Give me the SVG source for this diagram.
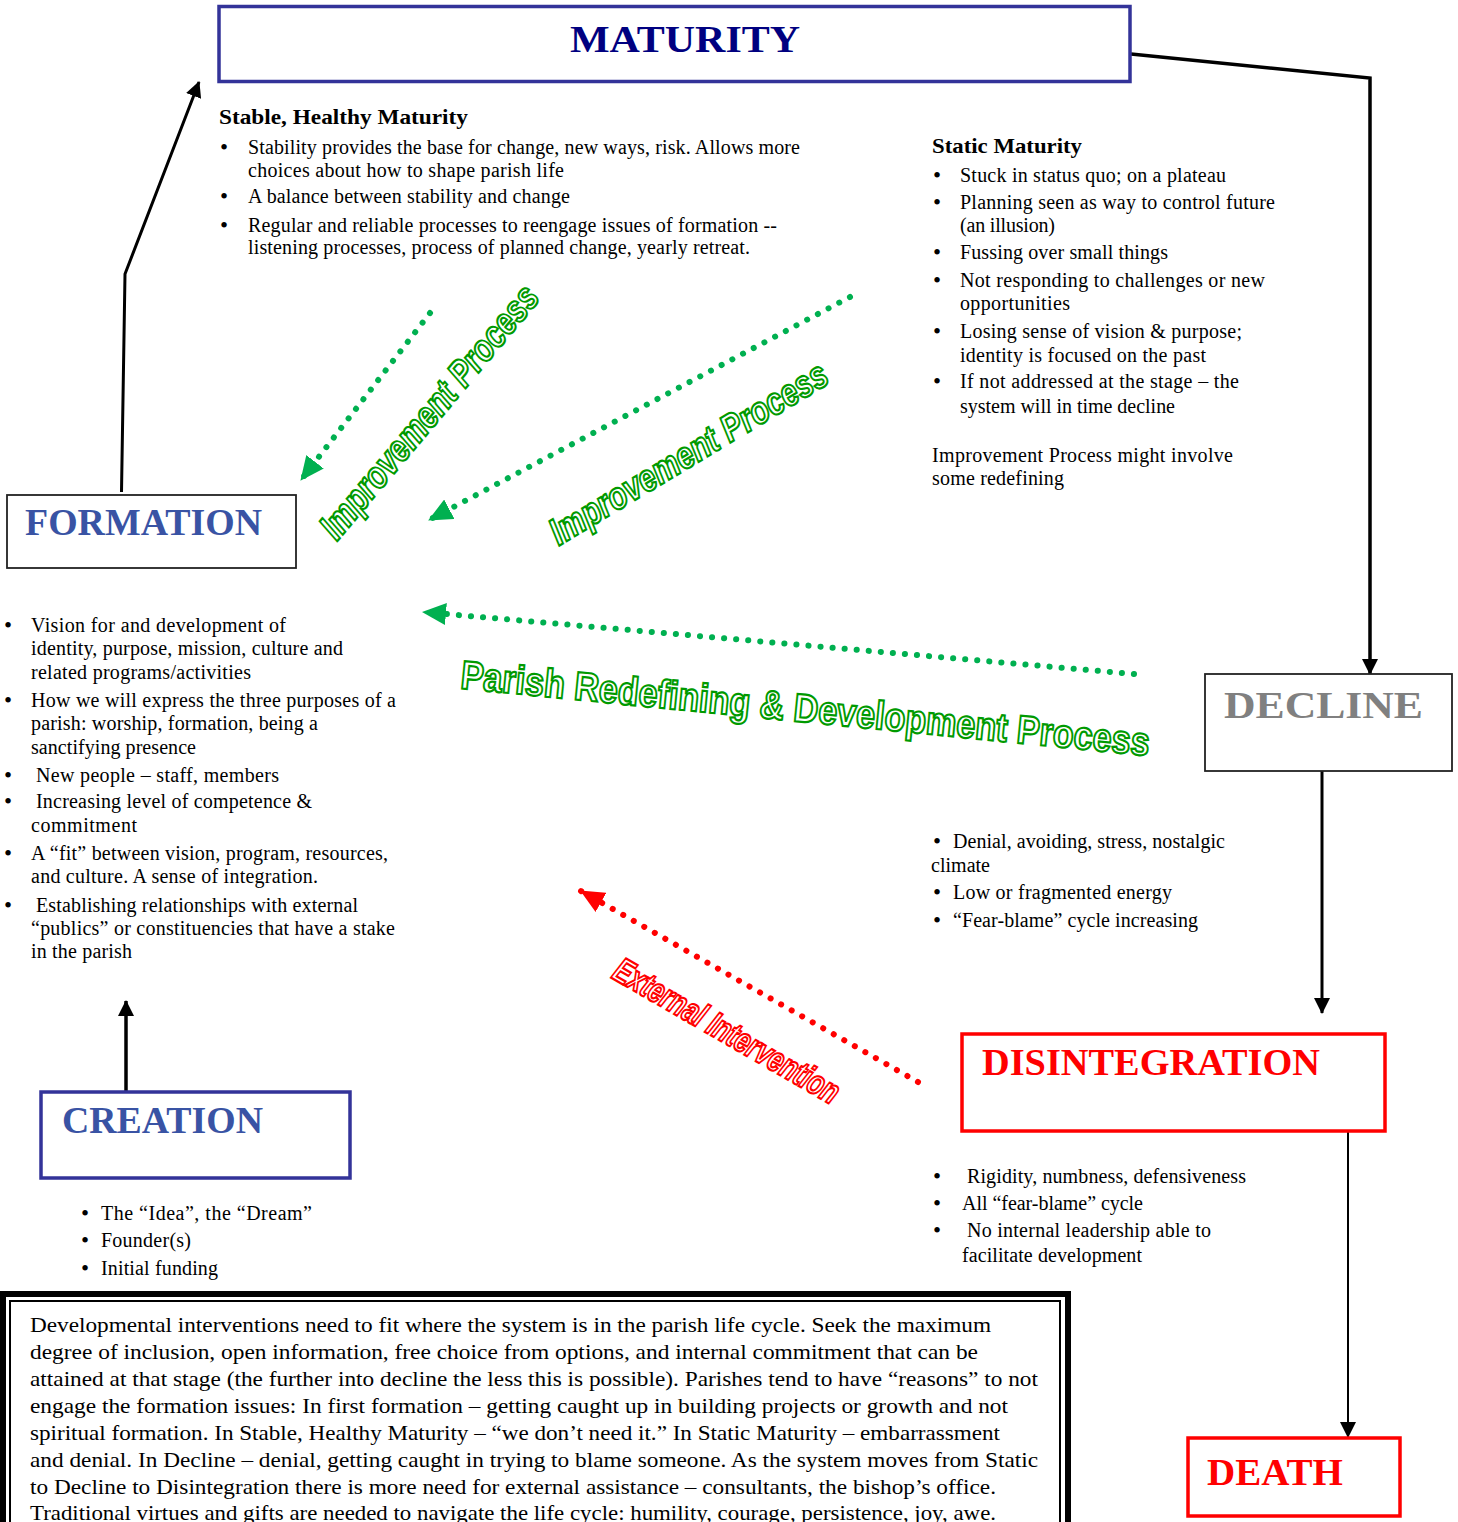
<svg xmlns="http://www.w3.org/2000/svg" width="1458" height="1522" viewBox="0 0 1458 1522">
<style>
.body{font-family:"Liberation Serif","Times New Roman",serif;font-size:20px;fill:#000}
.note{font-family:"Liberation Serif","Times New Roman",serif;font-size:22px;fill:#000}
.head{font-family:"Liberation Serif","Times New Roman",serif;font-size:22px;font-weight:bold;fill:#000}
.bul{font-family:"Liberation Serif","Times New Roman",serif;font-size:23px;fill:#000;text-anchor:middle}
.title{font-family:"Liberation Serif","Times New Roman",serif;font-weight:bold;font-size:38px}
.blue-box{fill:#fff;stroke:#333399;stroke-width:3.5}
.grey-box{fill:#fff;stroke:#222;stroke-width:1.8}
.red-box{fill:#fff;stroke:#ff0000;stroke-width:3.5}
.conn{fill:none;stroke:#000;stroke-width:3;marker-end:url(#blk)}
.dot-g{fill:none;stroke:#00b050;stroke-width:6;stroke-linecap:round;stroke-dasharray:0.1 12;marker-end:url(#grn)}
.dot-r{fill:none;stroke:#ff0000;stroke-width:6;stroke-linecap:round;stroke-dasharray:0.1 12;marker-end:url(#red)}
.wa{font-family:"Liberation Sans",Arial,sans-serif;font-weight:bold;fill:#fff;stroke-width:2.2;text-anchor:middle}
.wa-g{stroke:#009a00}
.wa-r{stroke:#ff0000}
</style>
<defs>
<marker id="blk" markerUnits="userSpaceOnUse" markerWidth="16" markerHeight="16" viewBox="0 0 16 16" refX="15" refY="8" orient="auto"><path d="M0,0 L16,8 L0,16 z" fill="#000"/></marker>
<marker id="grn" markerUnits="userSpaceOnUse" markerWidth="24" markerHeight="22" viewBox="0 0 24 22" refX="23" refY="11" orient="auto"><path d="M0,0 L24,11 L0,22 z" fill="#00b050"/></marker>
<marker id="red" markerUnits="userSpaceOnUse" markerWidth="24" markerHeight="22" viewBox="0 0 24 22" refX="23" refY="11" orient="auto"><path d="M0,0 L24,11 L0,22 z" fill="#ff0000"/></marker>
</defs>
<rect width="1458" height="1522" fill="#fff"/>

<g id="connectors">
<polyline class="conn" points="121.5,492 125,274 199,82"/>
<polyline class="conn" style="stroke-width:3.5" points="1131,54 1370,78 1370,674"/>
<line class="conn" x1="1322" y1="771" x2="1322" y2="1013"/>
<line class="conn" style="stroke-width:2" x1="1348" y1="1131" x2="1348" y2="1437"/>
<line class="conn" style="stroke-width:3.5" x1="126" y1="1092" x2="126" y2="1001"/>
<line class="dot-g" x1="430" y1="313" x2="301" y2="480"/>
<line class="dot-g" x1="850" y1="297" x2="429" y2="520"/>
<line class="dot-g" x1="1134" y1="674" x2="423" y2="612"/>
<line class="dot-r" x1="918" y1="1082" x2="581" y2="891"/>
<text class="wa wa-g" font-style="italic" font-size="38" textLength="318" lengthAdjust="spacingAndGlyphs" transform="translate(439,420) rotate(-50)">Improvement Process</text>
<text class="wa wa-g" font-style="italic" font-size="38" textLength="318" lengthAdjust="spacingAndGlyphs" transform="translate(695,464) rotate(-31)">Improvement Process</text>
<text class="wa wa-g" font-size="40" textLength="692" lengthAdjust="spacingAndGlyphs" transform="translate(804,722) rotate(5.6)">Parish Redefining &amp; Development Process</text>
<text class="wa wa-r" font-style="italic" font-size="35" textLength="255" lengthAdjust="spacingAndGlyphs" transform="translate(721,1041) rotate(30)">External Intervention</text>
</g>

<g id="maturity">
<rect class="blue-box" x="219" y="6.5" width="911" height="75"/>
<text class="title" x="570" y="52" font-size="41" fill="#000080" textLength="230" lengthAdjust="spacingAndGlyphs">MATURITY</text>
</g>

<g id="stable-maturity">
<text class="head" x="219" y="124" textLength="249" lengthAdjust="spacingAndGlyphs">Stable, Healthy Maturity</text>
<text class="bul" x="224" y="155">•</text>
<text class="bul" x="224" y="204">•</text>
<text class="bul" x="224" y="233">•</text>
<text class="body" x="248" y="154" textLength="552">Stability provides the base for change, new ways, risk. Allows more</text>
<text class="body" x="248" y="177" textLength="316">choices about how to shape parish life</text>
<text class="body" x="248" y="203" textLength="322">A balance between stability and change</text>
<text class="body" x="248" y="232" textLength="529">Regular and reliable processes to reengage issues of formation --</text>
<text class="body" x="248" y="254" textLength="502">listening processes, process of planned change, yearly retreat.</text>
</g>

<g id="static-maturity">
<text class="head" x="932" y="153" textLength="150" lengthAdjust="spacingAndGlyphs">Static Maturity</text>
<text class="bul" x="937" y="183">•</text>
<text class="bul" x="937" y="210">•</text>
<text class="bul" x="937" y="260">•</text>
<text class="bul" x="937" y="288">•</text>
<text class="bul" x="937" y="339">•</text>
<text class="bul" x="937" y="389">•</text>
<text class="body" x="960" y="182" textLength="266">Stuck in status quo; on a plateau</text>
<text class="body" x="960" y="209" textLength="315">Planning seen as way to control future</text>
<text class="body" x="960" y="232" textLength="95">(an illusion)</text>
<text class="body" x="960" y="259" textLength="208">Fussing over small things</text>
<text class="body" x="960" y="287" textLength="305">Not responding to challenges or new</text>
<text class="body" x="960" y="310" textLength="110">opportunities</text>
<text class="body" x="960" y="338" textLength="282">Losing sense of vision &amp; purpose;</text>
<text class="body" x="960" y="362" textLength="246">identity is focused on the past</text>
<text class="body" x="960" y="388" textLength="279">If not addressed at the stage – the</text>
<text class="body" x="960" y="413" textLength="215">system will in time decline</text>
<text class="body" x="932" y="462" textLength="301">Improvement Process might involve</text>
<text class="body" x="932" y="485" textLength="132">some redefining</text>
</g>

<g id="formation">
<rect class="grey-box" x="7" y="495" width="289" height="73"/>
<text class="title" x="25" y="535" fill="#3953a4" textLength="237" lengthAdjust="spacingAndGlyphs">FORMATION</text>
</g>

<g id="formation-list">
<text class="bul" x="8" y="633">•</text>
<text class="bul" x="8" y="708">•</text>
<text class="bul" x="8" y="783">•</text>
<text class="bul" x="8" y="809">•</text>
<text class="bul" x="8" y="861">•</text>
<text class="bul" x="8" y="913">•</text>
<text class="body" x="31" y="632" textLength="255">Vision for and development of</text>
<text class="body" x="31" y="655" textLength="312">identity, purpose, mission, culture and</text>
<text class="body" x="31" y="679" textLength="220">related programs/activities</text>
<text class="body" x="31" y="707" textLength="365">How we will express the three purposes of a</text>
<text class="body" x="31" y="730" textLength="287">parish: worship, formation, being a</text>
<text class="body" x="31" y="754" textLength="165">sanctifying presence</text>
<text class="body" x="36" y="782" textLength="243">New people – staff, members</text>
<text class="body" x="36" y="808" textLength="276">Increasing level of competence &amp;</text>
<text class="body" x="31" y="832" textLength="106">commitment</text>
<text class="body" x="31" y="860" textLength="357">A “fit” between vision, program, resources,</text>
<text class="body" x="31" y="883" textLength="287">and culture. A sense of integration.</text>
<text class="body" x="36" y="912" textLength="322">Establishing relationships with external</text>
<text class="body" x="31" y="935" textLength="364">“publics” or constituencies that have a stake</text>
<text class="body" x="31" y="958" textLength="101">in the parish</text>
</g>

<g id="decline">
<rect class="grey-box" x="1205" y="674" width="247" height="97"/>
<text class="title" x="1224" y="718" font-size="42" fill="#808080" textLength="199" lengthAdjust="spacingAndGlyphs">DECLINE</text>
</g>

<g id="decline-list">
<text class="bul" x="937" y="849">•</text>
<text class="bul" x="937" y="900">•</text>
<text class="bul" x="937" y="928">•</text>
<text class="body" x="953" y="848" textLength="272">Denial, avoiding, stress, nostalgic</text>
<text class="body" x="931" y="872" textLength="59">climate</text>
<text class="body" x="953" y="899" textLength="219">Low or fragmented energy</text>
<text class="body" x="953" y="927" textLength="245">“Fear-blame” cycle increasing</text>
</g>

<g id="disintegration">
<rect class="red-box" x="962" y="1034" width="423" height="97"/>
<text class="title" x="982" y="1075" fill="#ff0000" textLength="338" lengthAdjust="spacingAndGlyphs">DISINTEGRATION</text>
</g>

<g id="disintegration-list">
<text class="bul" x="937" y="1184">•</text>
<text class="bul" x="937" y="1211">•</text>
<text class="bul" x="937" y="1238">•</text>
<text class="body" x="967" y="1183" textLength="279">Rigidity, numbness, defensiveness</text>
<text class="body" x="962" y="1210" textLength="181">All “fear-blame” cycle</text>
<text class="body" x="967" y="1237" textLength="244">No internal leadership able to</text>
<text class="body" x="962" y="1262" textLength="180">facilitate development</text>
</g>

<g id="creation">
<rect class="blue-box" x="41" y="1092" width="309" height="86"/>
<text class="title" x="62" y="1133" fill="#3953a4" textLength="201" lengthAdjust="spacingAndGlyphs">CREATION</text>
</g>

<g id="creation-list">
<text class="bul" x="85" y="1221">•</text>
<text class="bul" x="85" y="1248">•</text>
<text class="bul" x="85" y="1276">•</text>
<text class="body" x="101" y="1220" textLength="211">The “Idea”, the “Dream”</text>
<text class="body" x="101" y="1247" textLength="90">Founder(s)</text>
<text class="body" x="101" y="1275" textLength="117">Initial funding</text>
</g>

<g id="death">
<rect class="red-box" x="1188" y="1438" width="212" height="78"/>
<text class="title" x="1207" y="1485" fill="#ff0000" textLength="136" lengthAdjust="spacingAndGlyphs">DEATH</text>
</g>

<g id="note">
<rect x="3" y="1294" width="1065" height="260" fill="#fff" stroke="#000" stroke-width="6"/>
<rect x="10" y="1301" width="1050" height="250" fill="none" stroke="#000" stroke-width="2"/>
<text class="note" x="30" y="1332" textLength="961" lengthAdjust="spacingAndGlyphs">Developmental interventions need to fit where the system is in the parish life cycle.  Seek the maximum</text>
<text class="note" x="30" y="1359" textLength="948" lengthAdjust="spacingAndGlyphs">degree of inclusion, open information, free choice from options, and internal commitment that can be</text>
<text class="note" x="30" y="1386" textLength="1008" lengthAdjust="spacingAndGlyphs">attained at that stage (the further into decline the less this is possible). Parishes tend to have “reasons” to not</text>
<text class="note" x="30" y="1413" textLength="978" lengthAdjust="spacingAndGlyphs">engage the formation issues: In first formation – getting caught up in building projects or growth and not</text>
<text class="note" x="30" y="1440" textLength="970" lengthAdjust="spacingAndGlyphs">spiritual formation. In Stable, Healthy Maturity – “we don’t need it.” In Static Maturity – embarrassment</text>
<text class="note" x="30" y="1467" textLength="1008" lengthAdjust="spacingAndGlyphs">and denial. In Decline – denial, getting caught in trying to blame someone.  As the system moves from Static</text>
<text class="note" x="30" y="1494" textLength="966" lengthAdjust="spacingAndGlyphs">to Decline to Disintegration there is more need for external assistance – consultants, the bishop’s office.</text>
<text class="note" x="30" y="1520" textLength="966" lengthAdjust="spacingAndGlyphs">Traditional virtues and gifts are needed to navigate the life cycle: humility, courage, persistence, joy, awe.</text>
</g>
</svg>
